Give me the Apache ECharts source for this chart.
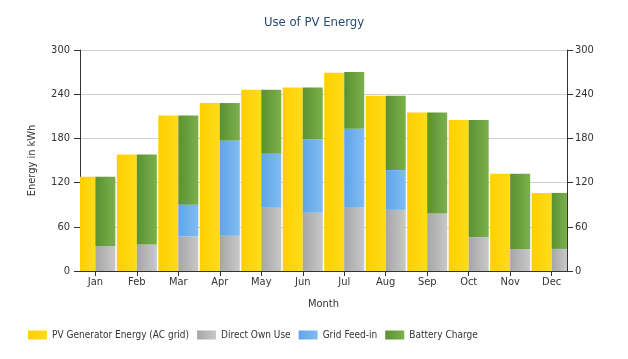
<!DOCTYPE html>
<html>
<head>
<meta charset="utf-8">
<script src="https://cdn.jsdelivr.net/npm/echarts@6/dist/echarts.min.js"></script>
<style>html,body{margin:0;padding:0;background:#fff}#c{width:628px;height:359px}</style>
</head>
<body>
<div id="c"></div>
<script>
var months = ['Jan','Feb','Mar','Apr','May','Jun','Jul','Aug','Sep','Oct','Nov','Dec'];
var pvGenerator = [128, 158, 211, 228, 246, 249, 269, 238, 215, 205, 132, 106];
var directOwnUse = [34, 36, 47, 48, 86, 79, 87, 83, 78, 46, 30, 30];
var gridFeedIn = [0, 0, 43, 129, 73, 100, 106, 54, 0, 0, 0, 0];
var batteryCharge = [94, 122, 121, 51, 87, 70, 77, 101, 137, 159, 102, 76];
var yTicks = [0, 60, 120, 180, 240, 300];

var FONT = '"DejaVu Sans Condensed", "DejaVu Sans", sans-serif';
var BAR_W = 20;
function grad(a, b) {
  return new echarts.graphic.LinearGradient(0, 0, 1, 0, [{offset: 0, color: a}, {offset: 1, color: b}]);
}
// [monthIndex, low, high] built from the arrays (stack of the use columns)
function stackRows(arrays, k) {
  return months.map(function (m, i) {
    var lo = 0;
    for (var j = 0; j < k; j++) lo += arrays[j][i];
    return [i, lo, lo + arrays[k][i]];
  });
}
var useStack = [directOwnUse, gridFeedIn, batteryCharge];
var idx = months.map(function (m, i) { return i; });

function makeRender(side) {
  return function (params, api) {
    var x = api.value(0), lo = api.value(1), hi = api.value(2);
    if (hi - lo <= 0) return null;
    var top = api.coord([x, hi]);
    var bot = api.coord([x, lo]);
    var left = side < 0 ? top[0] - BAR_W : top[0];
    var cs = params.coordSys;
    var r = echarts.graphic.clipRectByRect(
      {x: left, y: top[1], width: BAR_W, height: bot[1] - top[1]},
      {x: cs.x, y: cs.y, width: cs.width, height: cs.height});
    if (!r) return null;
    return {type: 'rect', shape: r, style: {fill: api.visual('color')}};
  };
}
function barSeries(name, data, side, color) {
  return {name: name, type: 'custom', renderItem: makeRender(side), z: 3,
    encode: {x: 0, y: [1, 2]}, itemStyle: {color: color}, data: data};
}

var chart = echarts.init(document.getElementById('c'));
var axisText = {color: '#333', fontSize: 11, fontFamily: FONT};
chart.setOption({
  animation: false,
  title: {
    text: 'Use of PV Energy', left: 'center', top: 11,
    textStyle: {color: '#274b6d', fontSize: 13, fontWeight: 'normal', fontFamily: FONT}
  },
  legend: {
    left: 23, top: 325, itemWidth: 19, itemHeight: 9, itemGap: 8,
    icon: 'rect',
    textStyle: {color: '#333', fontSize: 10, fontFamily: FONT},
    data: ['PV Generator Energy (AC grid)', 'Direct Own Use', 'Grid Feed-in', 'Battery Charge']
  },
  grid: {left: 80, right: 61, top: 50, bottom: 88, outerBoundsMode: 'none'},
  xAxis: {
    type: 'value', min: -0.37, max: 11.37,
    name: 'Month', nameLocation: 'middle', nameGap: 28, nameTextStyle: axisText,
    axisLine: {show: true, onZero: false, lineStyle: {color: '#333'}},
    axisTick: {show: true, customValues: idx, length: 5, lineStyle: {color: '#333'}},
    axisLabel: {customValues: idx, color: '#333', fontSize: 11, fontFamily: FONT, margin: 6,
      formatter: function (v) { return months[Math.round(v)]; }},
    splitLine: {show: false}
  },
  yAxis: [{
    type: 'value', min: 0, max: 300, interval: 60, position: 'left',
    name: 'Energy in kWh', nameLocation: 'middle', nameGap: 42, nameRotate: 90, nameTextStyle: axisText,
    axisLine: {show: true, onZero: false, lineStyle: {color: '#333'}},
    axisTick: {show: true, length: 6, lineStyle: {color: '#333'}},
    axisLabel: {customValues: yTicks, color: '#333', fontSize: 11, fontFamily: FONT, margin: 10},
    splitLine: {show: true, lineStyle: {color: '#cfcfcf'}}
  }, {
    type: 'value', min: 0, max: 300, interval: 60, position: 'right',
    axisLine: {show: true, onZero: false, lineStyle: {color: '#333'}},
    axisTick: {show: true, length: 6, lineStyle: {color: '#333'}},
    axisLabel: {customValues: yTicks, color: '#333', fontSize: 11, fontFamily: FONT, margin: 8},
    splitLine: {show: false}
  }],
  series: [
    barSeries('PV Generator Energy (AC grid)', months.map(function (m, i) { return [i, 0, pvGenerator[i]]; }), -1, grad('#ffcf00', '#ffdc1a')),
    barSeries('Direct Own Use', stackRows(useStack, 0), 1, grad('#a6a6a6', '#c8c8c8')),
    barSeries('Grid Feed-in', stackRows(useStack, 1), 1, grad('#5ea5e8', '#82bcf1')),
    barSeries('Battery Charge', stackRows(useStack, 2), 1, grad('#5a9132', '#7bb04c'))
  ]
});
</script>
</body>
</html>
